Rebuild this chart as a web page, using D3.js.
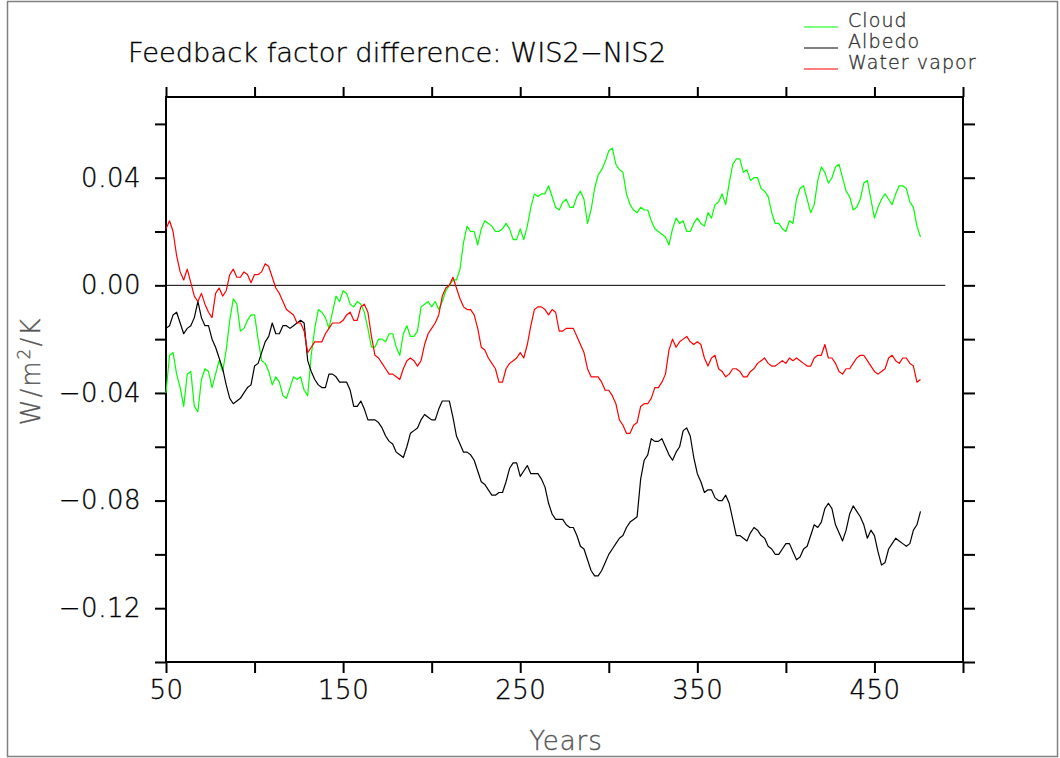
<!DOCTYPE html>
<html>
<head>
<meta charset="utf-8">
<script src="https://cdn.jsdelivr.net/npm/d3@7"></script>
<style>
  html, body { margin: 0; padding: 0; background: #fff; }
  svg { display: block; }
  text { font-family: "DejaVu Sans", "Liberation Sans", sans-serif; }
</style>
</head>
<body>
<svg id="chart" width="1060" height="758"></svg>
<script>
// Model years of the smoothed series (every 2 years)
const years = d3.range(50, 477, 2);

// Feedback factor differences, W/m^2/K
const cloud = [
  -0.040, -0.026, -0.025, -0.033, -0.038, -0.045, -0.033, -0.032, -0.045, -0.047,
  -0.035, -0.031, -0.032, -0.038, -0.033, -0.028, -0.032, -0.024, -0.013, -0.005,
  -0.007, -0.017, -0.016, -0.013, -0.011, -0.011, -0.020, -0.028, -0.029, -0.032,
  -0.037, -0.034, -0.036, -0.041, -0.042, -0.038, -0.034, -0.035, -0.034, -0.039,
  -0.041, -0.026, -0.016, -0.009, -0.010, -0.012, -0.016, -0.010, -0.004, -0.006,
  -0.002, -0.003, -0.007, -0.008, -0.006, -0.007, -0.010, -0.016, -0.023, -0.023,
  -0.020, -0.020, -0.021, -0.018, -0.018, -0.023, -0.026, -0.018, -0.015, -0.019,
  -0.019, -0.017, -0.008, -0.007, -0.006, -0.008, -0.006, -0.009, -0.006, -0.002,
   0.000,  0.002,  0.002,  0.006,  0.016,  0.022,  0.020,  0.020,  0.015,  0.021,
   0.024,  0.023,  0.022,  0.020,  0.020,  0.021,  0.023,  0.021,  0.017,  0.017,
   0.021,  0.017,  0.022,  0.029,  0.034,  0.033,  0.034,  0.034,  0.037,  0.033,
   0.029,  0.028,  0.031,  0.032,  0.029,  0.029,  0.033,  0.035,  0.032,  0.023,
   0.028,  0.036,  0.041,  0.043,  0.046,  0.050,  0.051,  0.045,  0.043,  0.042,
   0.034,  0.030,  0.028,  0.027,  0.029,  0.028,  0.028,  0.024,  0.021,  0.020,
   0.019,  0.018,  0.015,  0.021,  0.025,  0.023,  0.024,  0.020,  0.020,  0.023,
   0.025,  0.023,  0.022,  0.027,  0.025,  0.030,  0.031,  0.034,  0.030,  0.038,
   0.045,  0.047,  0.047,  0.042,  0.043,  0.039,  0.040,  0.040,  0.036,  0.035,
   0.033,  0.027,  0.023,  0.023,  0.021,  0.020,  0.024,  0.023,  0.032,  0.036,
   0.037,  0.032,  0.027,  0.030,  0.039,  0.044,  0.042,  0.038,  0.040,  0.044,
   0.045,  0.040,  0.035,  0.033,  0.028,  0.029,  0.032,  0.038,  0.039,  0.032,
   0.025,  0.029,  0.032,  0.034,  0.032,  0.030,  0.034,  0.037,  0.037,  0.036,
   0.031,  0.029,  0.022,  0.018
];

const albedo = [
  -0.016, -0.015, -0.011, -0.010, -0.014, -0.018, -0.016, -0.015, -0.012, -0.006,
  -0.012, -0.015, -0.015, -0.020, -0.023, -0.027, -0.031, -0.037, -0.042, -0.044,
  -0.043, -0.042, -0.040, -0.038, -0.037, -0.030, -0.029, -0.025, -0.021, -0.019,
  -0.014, -0.018, -0.018, -0.015, -0.015, -0.016, -0.015, -0.014, -0.013, -0.014,
  -0.028, -0.032, -0.035, -0.037, -0.038, -0.038, -0.033, -0.033, -0.034, -0.036,
  -0.036, -0.036, -0.039, -0.045, -0.045, -0.043, -0.046, -0.050, -0.050, -0.050,
  -0.051, -0.053, -0.056, -0.058, -0.059, -0.062, -0.063, -0.064, -0.060, -0.055,
  -0.054, -0.053, -0.050, -0.048, -0.049, -0.050, -0.050, -0.046, -0.043, -0.043,
  -0.043, -0.049, -0.056, -0.059, -0.062, -0.062, -0.063, -0.065, -0.069, -0.073,
  -0.074, -0.076, -0.078, -0.078, -0.077, -0.077, -0.073, -0.068, -0.066, -0.066,
  -0.071, -0.069, -0.067, -0.070, -0.070, -0.070, -0.072, -0.075, -0.081, -0.085,
  -0.087, -0.087, -0.087, -0.089, -0.090, -0.090, -0.093, -0.097, -0.098, -0.102,
  -0.106, -0.108, -0.108, -0.106, -0.103, -0.100, -0.098, -0.096, -0.094, -0.093,
  -0.090, -0.088, -0.087, -0.086, -0.072, -0.065, -0.063, -0.057, -0.058, -0.058,
  -0.057, -0.060, -0.063, -0.065, -0.062, -0.060, -0.054, -0.053, -0.056, -0.064,
  -0.070, -0.073, -0.077, -0.076, -0.076, -0.079, -0.080, -0.080, -0.078, -0.081,
  -0.087, -0.093, -0.093, -0.094, -0.095, -0.092, -0.090, -0.091, -0.093, -0.094,
  -0.097, -0.098, -0.100, -0.100, -0.098, -0.096, -0.096, -0.099, -0.102, -0.101,
  -0.098, -0.097, -0.093, -0.089, -0.090, -0.088, -0.083, -0.081, -0.083, -0.089,
  -0.092, -0.095, -0.091, -0.085, -0.082, -0.084, -0.086, -0.089, -0.094, -0.091,
  -0.093, -0.099, -0.104, -0.103, -0.098, -0.096, -0.094, -0.095, -0.096, -0.097,
  -0.096, -0.091, -0.089, -0.084
];

const waterVapor = [
   0.021,  0.024,  0.020,  0.011,  0.005,  0.002,  0.006,  0.001, -0.004, -0.006,
  -0.003, -0.007, -0.010, -0.012, -0.003, -0.001, -0.004, -0.002,  0.004,  0.006,
   0.003,  0.003,  0.005,  0.004,  0.001,  0.004,  0.004,  0.005,  0.008,  0.007,
   0.003, -0.001, -0.003, -0.006, -0.009, -0.010, -0.011, -0.014, -0.014, -0.017,
  -0.025, -0.023, -0.021, -0.021, -0.021, -0.018, -0.016, -0.014, -0.014, -0.014,
  -0.013, -0.011, -0.010, -0.013, -0.013, -0.008, -0.007, -0.010, -0.019, -0.026,
  -0.027, -0.029, -0.031, -0.033, -0.033, -0.034, -0.035, -0.031, -0.028, -0.027,
  -0.028, -0.030, -0.028, -0.022, -0.018, -0.016, -0.014, -0.011, -0.004, -0.001,
   0.000,  0.003, -0.001, -0.005, -0.008, -0.009, -0.009, -0.011, -0.016, -0.023,
  -0.024, -0.027, -0.029, -0.031, -0.036, -0.036, -0.031, -0.029, -0.028, -0.027,
  -0.025, -0.027, -0.022, -0.015, -0.009, -0.008, -0.008, -0.009, -0.011, -0.009,
  -0.010, -0.017, -0.017, -0.016, -0.016, -0.016, -0.019, -0.022, -0.025, -0.031,
  -0.034, -0.034, -0.034, -0.036, -0.039, -0.039, -0.041, -0.044, -0.050, -0.052,
  -0.055, -0.055, -0.052, -0.051, -0.045, -0.044, -0.044, -0.042, -0.038, -0.038,
  -0.036, -0.033, -0.024, -0.020, -0.023, -0.021, -0.020, -0.019, -0.021, -0.022,
  -0.021, -0.022, -0.027, -0.030, -0.027, -0.026, -0.031, -0.032, -0.034, -0.033,
  -0.031, -0.031, -0.032, -0.034, -0.034, -0.032, -0.031, -0.029, -0.028, -0.027,
  -0.029, -0.030, -0.030, -0.029, -0.028, -0.029, -0.027, -0.028, -0.027, -0.028,
  -0.029, -0.030, -0.030, -0.027, -0.026, -0.026, -0.022, -0.027, -0.027, -0.029,
  -0.032, -0.033, -0.031, -0.031, -0.029, -0.027, -0.026, -0.026, -0.028, -0.030,
  -0.032, -0.033, -0.032, -0.031, -0.027, -0.026, -0.028, -0.029, -0.027, -0.027,
  -0.029, -0.030, -0.036, -0.035
];

// Axis ticks
const xTicks = [50, 100, 150, 200, 250, 300, 350, 400, 450, 500];
const xLabelled = [50, 150, 250, 350, 450];
const yTicks = [-0.14, -0.12, -0.10, -0.08, -0.06, -0.04, -0.02, 0.00, 0.02, 0.04, 0.06];
const yLabelled = [-0.12, -0.08, -0.04, 0.00, 0.04];

// Legend entries, top to bottom
const seriesNames = ["Cloud", "Albedo", "Water vapor"];
const seriesColors = ["#00ff00", "#000000", "#ff0000"];
const seriesValues = [cloud, albedo, waterVapor];

const svg = d3.select("#chart");
const W = 1060, H = 758;
const plot = { left: 166, right: 963, top: 97, bottom: 662 };

// Outer frame around the whole figure
svg.append("rect")
  .attr("x", 7.5).attr("y", 1.5)
  .attr("width", W - 10).attr("height", H - 3)
  .attr("fill", "none").attr("stroke", "#808080").attr("stroke-width", 1.5);

const x = d3.scaleLinear().domain([50, 500]).range([plot.left, plot.right]);
const y = d3.scaleLinear().domain([-0.14, 0.07]).range([plot.bottom, plot.top]);

const isLab = (list, v) => list.some(d => Math.abs(d - v) < 1e-9);
const fmtY = d3.format(".2f");

// Thin stroked lettering used for all labels
function thinText(sel, size, color) {
  sel.style("font-size", size + "px")
    .style("font-weight", "200")
    .attr("fill", color)
    .attr("stroke", color)
    .attr("stroke-width", 0.35);
}

function styleAxis(g) {
  g.select(".domain").remove();
  g.selectAll(".tick line").attr("stroke", "#000").attr("stroke-width", 2);
  g.selectAll(".tick text").call(thinText, 26, "#000").style("letter-spacing", "0.5px");
}

// Bottom axis with year labels
svg.append("g")
  .attr("transform", `translate(0,${plot.bottom})`)
  .call(d3.axisBottom(x).tickValues(xTicks).tickSize(11).tickSizeOuter(0).tickPadding(8)
    .tickFormat(d => isLab(xLabelled, d) ? d : ""))
  .call(styleAxis);

// Top axis, ticks only
svg.append("g")
  .attr("transform", `translate(0,${plot.top})`)
  .call(d3.axisTop(x).tickValues(xTicks).tickSize(10).tickSizeOuter(0).tickFormat(""))
  .call(styleAxis);

// Left axis with value labels
svg.append("g")
  .attr("transform", `translate(${plot.left},0)`)
  .call(d3.axisLeft(y).tickValues(yTicks).tickSize(11).tickSizeOuter(0).tickPadding(14)
    .tickFormat(d => isLab(yLabelled, d) ? fmtY(d) : ""))
  .call(styleAxis);

// Right axis, ticks only
svg.append("g")
  .attr("transform", `translate(${plot.right},0)`)
  .call(d3.axisRight(y).tickValues(yTicks).tickSize(12).tickSizeOuter(0).tickFormat(""))
  .call(styleAxis);

// Plot frame
svg.append("rect")
  .attr("x", plot.left).attr("y", plot.top)
  .attr("width", plot.right - plot.left).attr("height", plot.bottom - plot.top)
  .attr("fill", "none").attr("stroke", "#000").attr("stroke-width", 2);

// Zero reference line
svg.append("line")
  .attr("x1", x(50)).attr("x2", x(490))
  .attr("y1", y(0)).attr("y2", y(0))
  .attr("stroke", "#000").attr("stroke-width", 1);

// Series lines
const line = d3.line()
  .x((d, i) => x(years[i]))
  .y(d => y(d));

seriesValues.forEach((vals, k) => {
  svg.append("path")
    .datum(vals)
    .attr("d", line)
    .attr("fill", "none")
    .attr("stroke", seriesColors[k])
    .attr("stroke-width", 1.2)
    .attr("stroke-linejoin", "round");
});

// Title
svg.append("text")
  .attr("x", 128).attr("y", 62)
  .attr("textLength", 538).attr("lengthAdjust", "spacingAndGlyphs")
  .call(thinText, 26, "#000")
  .text("Feedback factor difference: WIS2\u2212NIS2");

// Legend
seriesNames.forEach((name, k) => {
  const yy = 27 + k * 21;
  svg.append("line")
    .attr("x1", 804).attr("x2", 838)
    .attr("y1", yy).attr("y2", yy)
    .attr("stroke", seriesColors[k]).attr("stroke-width", 1.2);
  svg.append("text")
    .attr("x", 848).attr("y", yy)
    .call(thinText, 19, "#333")
    .style("letter-spacing", "1.1px")
    .text(name);
});

// Axis titles
svg.append("text")
  .attr("x", 566).attr("y", 750)
  .attr("text-anchor", "middle")
  .call(thinText, 26, "#555")
  .style("letter-spacing", "1px")
  .text("Years");

svg.append("text")
  .attr("transform", "translate(40,371) rotate(-90)")
  .attr("text-anchor", "middle")
  .call(thinText, 26, "#555")
  .style("letter-spacing", "2px")
  .html('W/m<tspan dy="-10" style="font-size:17px">2</tspan><tspan dy="10">/K</tspan>');
</script>
</body>
</html>
